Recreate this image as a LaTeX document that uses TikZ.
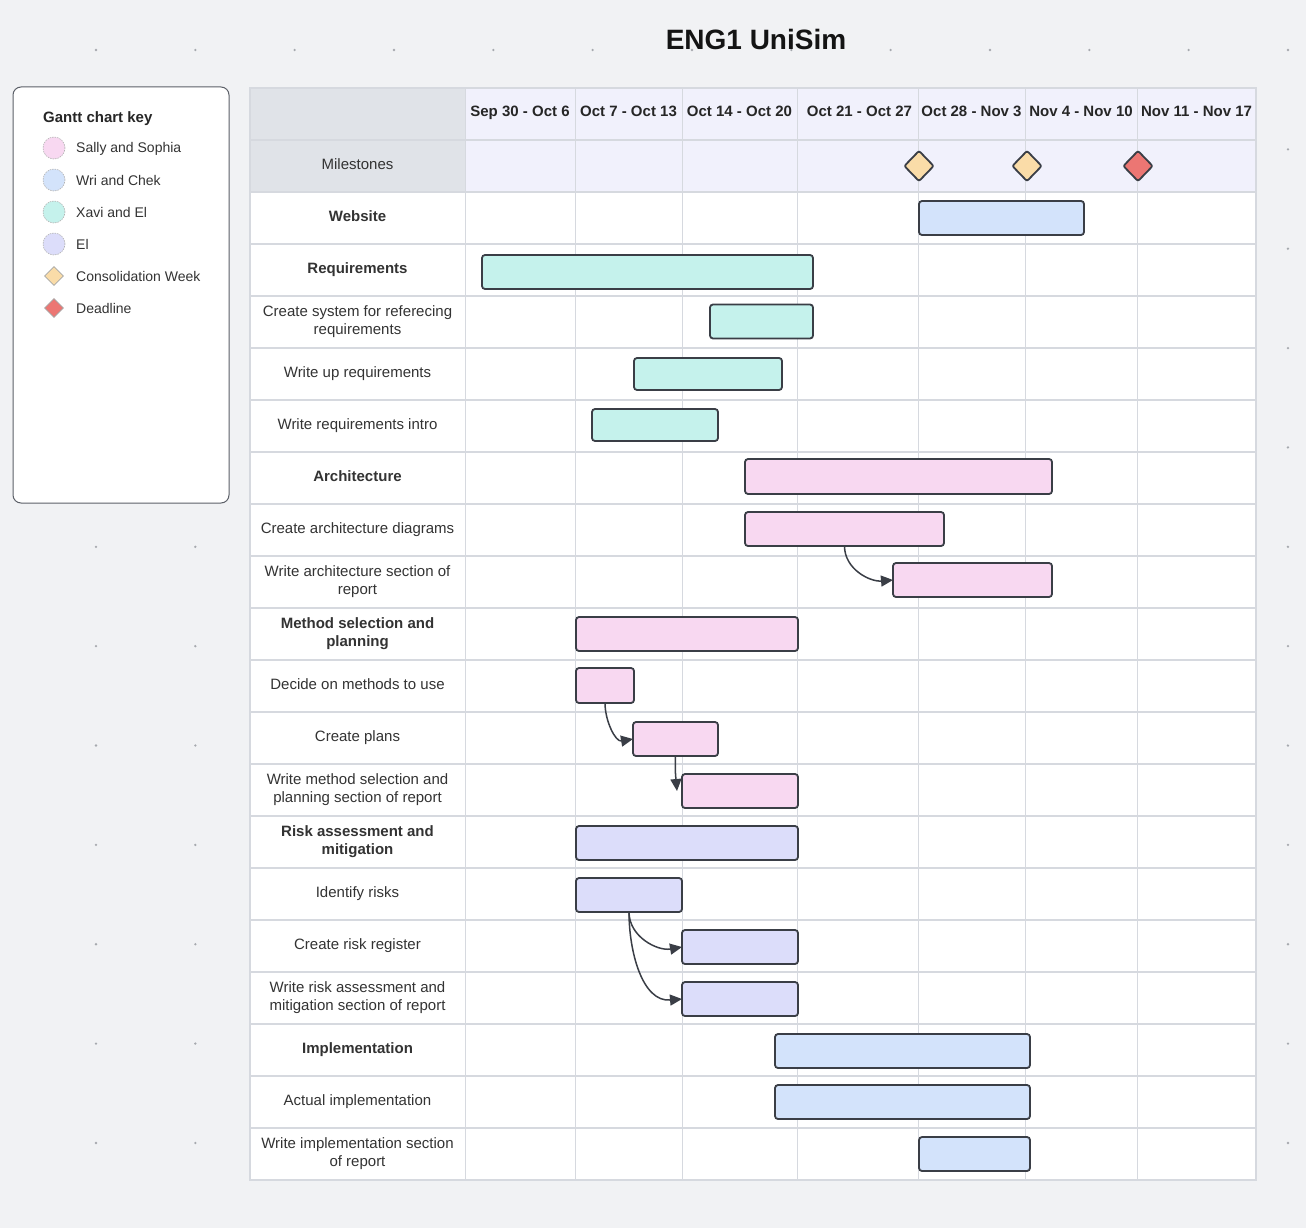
\documentclass[tikz,border=0pt]{standalone}
\usepackage{fontspec}
\setmainfont{Liberation Sans}
\usetikzlibrary{arrows.meta,shapes.geometric}
\definecolor{bgc}{HTML}{F1F2F4}
\definecolor{dotc}{HTML}{A6A9AE}
\definecolor{gridc}{HTML}{D6D9DF}
\definecolor{headgray}{HTML}{E0E3E8}
\definecolor{headlav}{HTML}{F1F1FC}
\definecolor{pinkc}{HTML}{F8D8F1}
\definecolor{bluec}{HTML}{D3E3FB}
\definecolor{tealc}{HTML}{C5F2EC}
\definecolor{lavc}{HTML}{DCDDFA}
\definecolor{yellowc}{HTML}{FADCA8}
\definecolor{redc}{HTML}{EC7673}
\definecolor{strokec}{HTML}{3A3E46}
\definecolor{txtc}{HTML}{333333}
\definecolor{legc}{HTML}{5C6068}
\tikzset{
  bar/.style={draw=strokec, line width=1.8pt, rounded corners=3pt, minimum height=34pt, inner sep=0pt, outer sep=0pt},
  arr/.style={draw=strokec, line width=1.5pt, -{Triangle[length=12pt,width=11pt]}},
  lab/.style={font=\fontsize{15}{18}\selectfont, text=txtc, align=center, inner sep=0pt},
  blab/.style={lab, font=\fontsize{15}{18}\selectfont\bfseries},
  oneline/.style={text height=10.7pt, text depth=0pt},
  hdr/.style={font=\fontsize{15}{18}\selectfont\bfseries, text=black!85, inner sep=0pt, oneline},
  mile/.style={diamond, draw=strokec, line width=1.8pt, rounded corners=2pt, minimum width=30pt, minimum height=31pt, inner sep=0pt},
  legdot/.style={circle, draw=gray!60, dashed, dash pattern=on 1.5pt off 1pt, line width=0.6pt, minimum size=22pt, inner sep=0pt},
  legdia/.style={diamond, draw=gray!70, line width=0.6pt, minimum width=19pt, minimum height=19pt, inner sep=0pt},
  legtxt/.style={font=\fontsize{14}{17}\selectfont, text=txtc, anchor=west, inner sep=0pt, text height=10pt, text depth=0pt},
}
\begin{document}
\begin{tikzpicture}[x=1pt,y=-1pt]
\useasboundingbox (0,0) rectangle (1306,1228);
\fill[bgc] (0,0) rectangle (1306,1228);
% dot grid
\foreach \i in {0,...,12}{
  \foreach \j in {0,...,11}{
    \fill[dotc] ({96+99.33*\i},{50+99.36*\j}) circle (1.3);
  }
}
% title
\node[font=\fontsize{28}{32}\selectfont\bfseries, text=black!92, inner sep=0pt] (title) at (756,39) {ENG1 UniSim};
% legend
\node[draw=legc, line width=1pt, fill=white, rounded corners=8pt, minimum width=216pt, minimum height=416pt, inner sep=0pt] (legend) at (121,295) {};
\node[font=\fontsize{15}{18}\selectfont\bfseries, text=black!85, anchor=west, inner sep=0pt, oneline] (legtitle) at (43,117) {Gantt chart key};
\node[legdot, fill=pinkc] (ld1) at (54,148) {};
\node[legdot, fill=bluec] (ld2) at (54,180) {};
\node[legdot, fill=tealc] (ld3) at (54,212) {};
\node[legdot, fill=lavc] (ld4) at (54,244) {};
\node[legdia, fill=yellowc] (ld5) at (54,276) {};
\node[legdia, fill=redc] (ld6) at (54,308) {};
\node[legtxt] (lt1) at (76,148) {Sally and Sophia};
\node[legtxt] (lt2) at (76,180) {Wri and Chek};
\node[legtxt] (lt3) at (76,212) {Xavi and El};
\node[legtxt] (lt4) at (76,244) {El};
\node[legtxt] (lt5) at (76,276) {Consolidation Week};
\node[legtxt] (lt6) at (76,308) {Deadline};
% table backgrounds
\fill[headgray] (250,88) rectangle (465,192);
\fill[headlav] (465,88) rectangle (1256,192);
\fill[white] (250,192) rectangle (1256,1180);
% grid lines
\foreach \y in {140,192,244,...,1180}{
  \draw[gridc, line width=1.5pt] (250,\y) -- (1256,\y);
}
\foreach \x in {465,575,682,797,918,1025,1137}{
  \draw[gridc, line width=1pt] (\x,88) -- (\x,1180);
}
\draw[gridc, line width=1.5pt] (250,88) rectangle (1256,1180);
% headers
\node[hdr] (h1) at (520,111.5) {Sep 30 - Oct 6};
\node[hdr] (h2) at (628.5,111.5) {Oct 7 - Oct 13};
\node[hdr] (h3) at (739.5,111.5) {Oct 14 - Oct 20};
\node[hdr] (h4) at (859.5,111.5) {Oct 21 - Oct 27};
\node[hdr] (h5) at (971.5,111.5) {Oct 28 - Nov 3};
\node[hdr] (h6) at (1081,111.5) {Nov 4 - Nov 10};
\node[hdr] (h7) at (1196.5,111.5) {Nov 11 - Nov 17};
\node[lab, oneline] (milelab) at (357.5,164) {Milestones};
% milestones
\node[mile, fill=yellowc] (m1) at (919,166) {};
\node[mile, fill=yellowc] (m2) at (1027,166) {};
\node[mile, fill=redc] (m3) at (1138,166) {};
% row labels
\node[blab, oneline] (l1) at (357.5,216) {Website};
\node[blab, oneline] (l2) at (357.5,268) {Requirements};
\node[lab] (l3) at (357.5,322) {Create system for referecing\\requirements};
\node[lab, oneline] (l4) at (357.5,372) {Write up requirements};
\node[lab, oneline] (l5) at (357.5,424) {Write requirements intro};
\node[blab, oneline] (l6) at (357.5,476) {Architecture};
\node[lab, oneline] (l7) at (357.5,528) {Create architecture diagrams};
\node[lab] (l8) at (357.5,582) {Write architecture section of\\report};
\node[blab] (l9) at (357.5,634) {Method selection and\\planning};
\node[lab, oneline] (l10) at (357.5,684) {Decide on methods to use};
\node[lab, oneline] (l11) at (357.5,736) {Create plans};
\node[lab] (l12) at (357.5,790) {Write method selection and\\planning section of report};
\node[blab] (l13) at (357.5,842) {Risk assessment and\\mitigation};
\node[lab, oneline] (l14) at (357.5,892) {Identify risks};
\node[lab, oneline] (l15) at (357.5,944) {Create risk register};
\node[lab] (l16) at (357.5,998) {Write risk assessment and\\mitigation section of report};
\node[blab, oneline] (l17) at (357.5,1048) {Implementation};
\node[lab, oneline] (l18) at (357.5,1100) {Actual implementation};
\node[lab] (l19) at (357.5,1154) {Write implementation section\\of report};
% bars
\node[bar, fill=bluec, minimum width=165pt] (website) at (1001.5,218) {};
\node[bar, fill=tealc, minimum width=331pt] (req) at (647.5,272) {};
\node[bar, fill=tealc, minimum width=103pt] (createsys) at (761.5,321.5) {};
\node[bar, fill=tealc, minimum width=148pt, minimum height=32pt] (writeup) at (708,374) {};
\node[bar, fill=tealc, minimum width=126pt, minimum height=32pt] (writeintro) at (655,425) {};
\node[bar, fill=pinkc, minimum width=307pt, minimum height=35pt] (arch) at (898.5,476.5) {};
\node[bar, fill=pinkc, minimum width=199pt] (createarch) at (844.5,529) {};
\node[bar, fill=pinkc, minimum width=159pt] (writearch) at (972.5,580) {};
\node[bar, fill=pinkc, minimum width=222pt] (method) at (687,634) {};
\node[bar, fill=pinkc, minimum width=58pt, minimum height=35pt] (decide) at (605,685.5) {};
\node[bar, fill=pinkc, minimum width=85pt] (plans) at (675.5,739) {};
\node[bar, fill=pinkc, minimum width=116pt] (writemethod) at (740,791) {};
\node[bar, fill=lavc, minimum width=222pt] (risk) at (687,843) {};
\node[bar, fill=lavc, minimum width=106pt] (identify) at (629,895) {};
\node[bar, fill=lavc, minimum width=116pt] (riskreg) at (740,947) {};
\node[bar, fill=lavc, minimum width=116pt] (writerisk) at (740,999) {};
\node[bar, fill=bluec, minimum width=255pt] (impl) at (902.5,1051) {};
\node[bar, fill=bluec, minimum width=255pt] (actual) at (902.5,1102) {};
\node[bar, fill=bluec, minimum width=111pt] (writeimpl) at (974.5,1154) {};
% dependencies
\draw[arr] (createarch.south) to[out=-90,in=185] (writearch.west);
\draw[arr] (decide.south) to[out=-90,in=190] (plans.west);
\draw[arr] (plans.south) to[out=-93,in=95] ([xshift=-5pt]writemethod.west);
\draw[arr] (identify.south) to[out=-90,in=190] (riskreg.west);
\draw[arr] (identify.south) to[out=-90,in=185] (writerisk.west);
\end{tikzpicture}
\end{document}
